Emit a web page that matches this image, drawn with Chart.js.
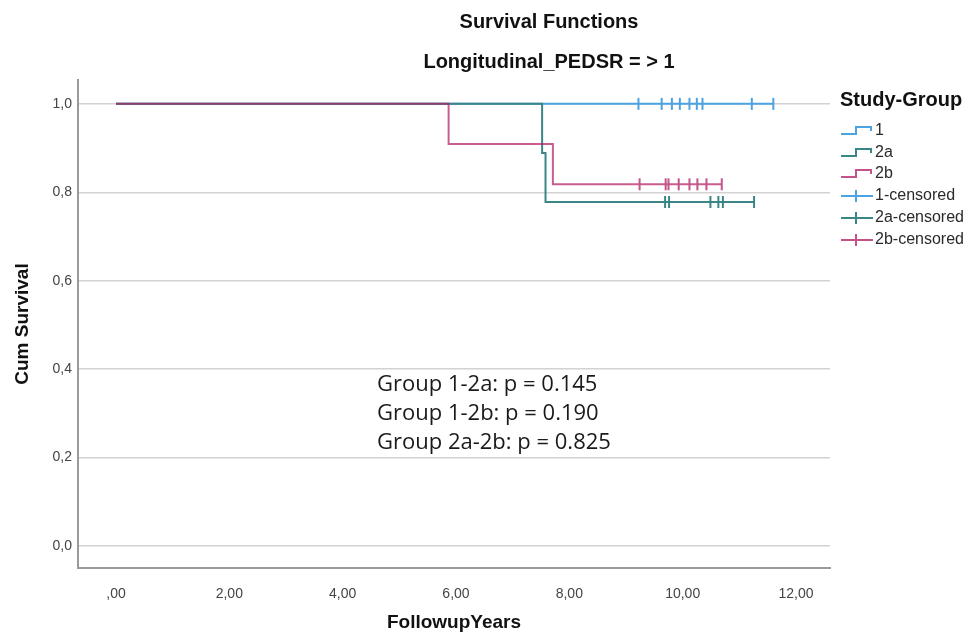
<!DOCTYPE html>
<html lang="en">
<head>
<meta charset="UTF-8">
<title>Survival Functions</title>
<style>
  body { margin: 0; background: #fff; }
  #wrap { width: 973px; height: 636px; position: relative; }
</style>
</head>
<body>
<div id="wrap"><canvas id="chart"></canvas></div>
<script src="https://cdn.jsdelivr.net/npm/chart.js@4/dist/chart.umd.min.js"></script>
<script>
// Kaplan-Meier steps per study group: event times (years) and cumulative survival
const groupNames = ['1', '2a', '2b'];
const g1Times = [0, 11.60];
const g1Surv = [1, 1];
const g2aTimes = [0, 7.52, 7.58, 11.26];
const g2aSurv = [1, 0.889, 0.778, 0.778];
const g2bTimes = [0, 5.87, 7.71, 10.69];
const g2bSurv = [1, 0.909, 0.818, 0.818];

// censored follow-up times per group
const g1Censored = [9.22, 9.63, 9.81, 9.95, 10.12, 10.25, 10.35, 11.22, 11.60];
const g2aCensored = [9.69, 9.76, 10.49, 10.63, 10.71, 11.26];
const g2bCensored = [9.24, 9.70, 9.75, 9.93, 10.12, 10.26, 10.42, 10.69];

const xTicks = [0, 2, 4, 6, 8, 10, 12];
const xTickLabels = [',00', '2,00', '4,00', '6,00', '8,00', '10,00', '12,00'];
const yTicks = [0, 0.2, 0.4, 0.6, 0.8, 1.0];
const yTickLabels = ['0,0', '0,2', '0,4', '0,6', '0,8', '1,0'];

const pairLabels = ['Group 1-2a', 'Group 1-2b', 'Group 2a-2b'];
const pValues = ['0.145', '0.190', '0.825'];

const colors = ['#4ca3e0', '#3a8686', '#c4538a'];
// 2b is drawn last and slightly see-through, so the shared 1,0 stretch blends
const lineColors = ['#4ca3e0', '#3a8686', 'rgba(180, 30, 100, 0.72)'];

// survival level of a step curve at time t
function survAt(times, surv, t) {
  let s = surv[0];
  for (let i = 0; i < times.length; i++) if (times[i] <= t) s = surv[i];
  return s;
}

const curves = [[g1Times, g1Surv], [g2aTimes, g2aSurv], [g2bTimes, g2bSurv]];
const censored = [g1Censored, g2aCensored, g2bCensored];

const datasets = [];
curves.forEach(([times, surv], i) => {
  datasets.push({
    label: groupNames[i],
    data: times.map((t, k) => ({ x: t, y: surv[k] })),
    showLine: true,
    stepped: true,
    borderColor: lineColors[i],
    borderWidth: 2,
    pointRadius: 0,
    order: 10 - i
  });
});
censored.forEach((list, i) => {
  const [times, surv] = curves[i];
  datasets.push({
    label: groupNames[i] + '-censored',
    data: list.map(t => ({ x: t, y: survAt(times, surv, t) })),
    showLine: false,
    pointStyle: 'line',
    rotation: 90,
    pointRadius: 6,
    borderColor: colors[i],
    borderWidth: 2,
    order: 5 - i
  });
});

const fontFamily = '"Liberation Sans", Arial, sans-serif';

// titles, legend and p-value notes
const decorations = {
  id: 'decorations',
  afterDraw(chart) {
    const ctx = chart.ctx;
    ctx.save();
    ctx.fillStyle = '#111';
    ctx.textAlign = 'center';
    ctx.textBaseline = 'middle';
    ctx.font = 'bold 20px ' + fontFamily;
    ctx.fillText('Survival Functions', 549, 22);
    ctx.fillText('Longitudinal_PEDSR = > 1', 549, 62);

    // legend
    ctx.textAlign = 'left';
    ctx.font = 'bold 20px ' + fontFamily;
    ctx.fillText('Study-Group', 840, 100);
    ctx.font = '16px ' + fontFamily;
    ctx.lineWidth = 2;
    const rowY = [131, 153, 174, 196, 218, 240];
    groupNames.forEach((name, i) => {
      const y = rowY[i];
      ctx.strokeStyle = colors[i];
      ctx.beginPath();
      ctx.moveTo(841, y + 3);
      ctx.lineTo(856, y + 3);
      ctx.lineTo(856, y - 4);
      ctx.lineTo(871, y - 4);
      ctx.lineTo(871, y);
      ctx.stroke();
      ctx.fillStyle = '#2a2a2a';
      ctx.fillText(name, 875, y);
    });
    groupNames.forEach((name, i) => {
      const y = rowY[i + 3];
      ctx.strokeStyle = colors[i];
      ctx.beginPath();
      ctx.moveTo(841, y);
      ctx.lineTo(873, y);
      ctx.moveTo(856, y - 6);
      ctx.lineTo(856, y + 6);
      ctx.stroke();
      ctx.fillStyle = '#2a2a2a';
      ctx.fillText(name + '-censored', 875, y);
    });

    // log-rank p values
    ctx.font = '22px "Open Sans", sans-serif';
    ctx.fillStyle = '#1a1a1a';
    pairLabels.forEach((label, i) => {
      ctx.fillText(label + ': p = ' + pValues[i], 377, 385 + i * 29);
    });
    ctx.restore();
  }
};

new Chart('chart', {
  type: 'scatter',
  data: { datasets: datasets },
  plugins: [decorations],
  options: {
    responsive: true,
    maintainAspectRatio: false,
    animation: false,
    layout: { padding: { top: 80, right: 143, left: 0, bottom: 0 } },
    plugins: {
      legend: { display: false },
      tooltip: { enabled: false }
    },
    scales: {
      x: {
        type: 'linear',
        min: -0.67,
        max: 12.6,
        afterBuildTicks: scale => { scale.ticks = xTicks.map(v => ({ value: v })); },
        afterFit: scale => { scale.height = 68; },
        ticks: {
          padding: 10,
          color: '#444',
          font: { family: fontFamily, size: 14 },
          callback: v => xTickLabels[xTicks.indexOf(v)]
        },
        grid: { display: false },
        border: { display: true, color: '#9a9a9a', width: 2 },
        title: {
          display: true,
          text: 'FollowupYears',
          color: '#111',
          font: { family: fontFamily, size: 19, weight: 'bold' },
          padding: { top: 0, bottom: 2 }
        }
      },
      y: {
        min: -0.05,
        max: 1.054,
        afterBuildTicks: scale => { scale.ticks = yTicks.map(v => ({ value: v })); },
        afterFit: scale => { scale.width = 78; },
        ticks: {
          padding: 6,
          color: '#444',
          font: { family: fontFamily, size: 14 },
          callback: v => yTickLabels[yTicks.indexOf(v)]
        },
        grid: { color: '#d2d2d2', lineWidth: 1.5, drawTicks: false },
        border: { display: true, color: '#9a9a9a', width: 2 },
        title: {
          display: true,
          text: 'Cum Survival',
          color: '#111',
          font: { family: fontFamily, size: 19, weight: 'bold' },
          padding: { top: 11, bottom: 0 }
        }
      }
    }
  }
});
</script>
</body>
</html>
